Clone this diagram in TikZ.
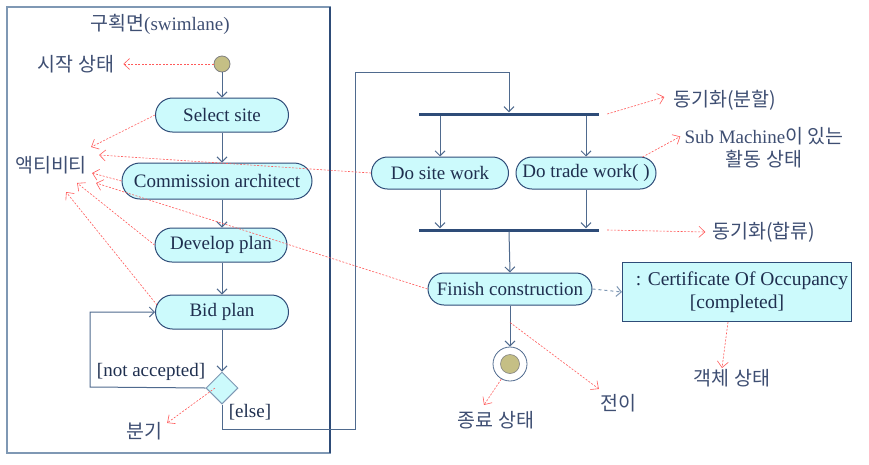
\documentclass[tikz,border=0pt]{standalone}
\usepackage{fontspec}
\setmainfont{Liberation Serif}
\newfontfamily\kr{Noto Sans CJK KR}
\usetikzlibrary{shapes.misc,shapes.geometric,arrows.meta}

\definecolor{lanecol}{HTML}{7F98B4}
\definecolor{edgecol}{HTML}{4F6A8E}
\definecolor{boxline}{HTML}{2E4C78}
\definecolor{boxfill}{HTML}{CCFAFC}
\definecolor{notecol}{HTML}{FF5A5A}
\definecolor{krtext}{HTML}{3E4E72}
\definecolor{inktext}{HTML}{1F2F4F}
\definecolor{dotfill}{HTML}{C5BF85}

\tikzset{
  activity/.style={rounded rectangle, draw=boxline, fill=boxfill, line width=1pt,
    minimum height=34pt, inner xsep=0pt, inner ysep=2pt, text=inktext, font=\fontsize{19}{21}\selectfont},
  flow/.style={draw=edgecol, line width=1pt, -{Straight Barb[length=5pt,width=10pt]}},
  bar/.style={fill=boxline, minimum width=180pt, minimum height=3pt, inner sep=0pt},
  note/.style={draw=notecol, line width=0.6pt, dash pattern=on 2pt off 1.5pt,
    -{Straight Barb[length=6pt,width=11pt]}},
  krlabel/.style={font=\kr\fontsize{19.5}{23}\selectfont, text=krtext, inner sep=1pt},
  guard/.style={font=\fontsize{19}{21}\selectfont, text=inktext, inner sep=1pt},
}

\begin{document}
\begin{tikzpicture}[x=1pt, y=-1pt]
    \useasboundingbox (0,0) rectangle (869,464);

    % Swimlane frame
    \draw[lanecol, line width=1.2pt] (7,7) rectangle (330,453);
    \draw[boxline, line width=1.4pt] (330,7) -- (330,453);
    \node[inner sep=1pt, text=krtext] (title) at (160,24)
        {{\kr\fontsize{19.5}{22}\selectfont 구획면}{\fontsize{19}{21}\selectfont(swimlane)}};

    % Start state and activities in the lane
    \node[circle, draw=gray, fill=dotfill, line width=0.8pt, minimum size=16pt, inner sep=0pt] (start) at (222,64) {};
    \node[activity, minimum width=133pt] (select) at (222,115) {Select site};
    \node[activity, minimum width=190pt, minimum height=36pt] (commission) at (217,181) {Commission architect};
    \node[activity, minimum width=132pt] (develop) at (221,245) {Develop plan};
    \node[activity, minimum width=133pt] (bid) at (222,312) {Bid plan};
    \node[diamond, draw=lanecol, fill=boxfill, line width=1pt, minimum width=32pt, minimum height=32pt, inner sep=0pt] (decide) at (222,388) {};

    % Fork, parallel work, join
    \node[bar] (fork) at (509,114) {};
    \node[activity, minimum width=137pt, minimum height=32pt] (sitework) at (440,173) {Do site work};
    \node[activity, minimum width=140pt, minimum height=32pt] (tradework) at (586,173) {Do trade work( )};
    \node[bar] (join) at (509,230) {};
    \node[activity, minimum width=164pt, minimum height=32pt] (finish) at (510,289) {Finish construction};
    \node[draw=boxline, fill=boxfill, line width=1pt, minimum width=229pt, minimum height=59pt,
          align=center, text=inktext, font=\fontsize{19.5}{23}\selectfont] (cert) at (737,292)
        {\hspace*{10pt}: Certificate Of Occupancy\\{}[completed]};
    \node[circle, draw=edgecol, fill=white, line width=0.8pt, minimum size=34pt, inner sep=0pt] (stop) at (510,364) {};
    \node[circle, draw=gray, fill=dotfill, line width=0.6pt, minimum size=19pt, inner sep=0pt] (stopdot) at (stop) {};

    % Transitions
    \coordinate (loopturn) at (90,387);
    \coordinate (lowturn) at (355,429);
    \coordinate (highturn) at (355,72);
    \draw[flow] (start) -- (select);
    \draw[flow] (select.south) -- (select.south |- commission.north);
    \draw[flow] (select.south |- commission.south) -- (select.south |- develop.north);
    \draw[flow] (select.south |- develop.south) -- (select.south |- bid.north);
    \draw[flow] (bid.south) -- (decide.north);
    \draw[flow] (decide.west) -- (loopturn) |- (bid.west);
    \draw[flow] (decide.south) |- (lowturn) -- (highturn) -| (fork.north);
    \draw[flow] (fork.south -| sitework) -- (sitework.north);
    \draw[flow] (fork.south -| tradework) -- (tradework.north);
    \draw[flow] (sitework.south) -- (sitework.south |- join.north);
    \draw[flow] (tradework.south) -- (tradework.south |- join.north);
    \draw[flow] (join.south) -- (finish.north);
    \draw[flow, draw=lanecol, dashed] (finish.east) -- (cert.west);
    \draw[flow] (finish.south) -- (stop.north);

    % Guards
    \node[guard] (notaccepted) at (151,372) {[not accepted]};
    \node[guard] (elseguard) at (250,412) {[else]};

    % Annotation labels
    \node[krlabel] (startlabel) at (76,64) {시작 상태};
    \node[krlabel] (actlabel) at (51,165) {액티비티};
    \node[krlabel] (branchlabel) at (144,431) {분기};
    \node[krlabel] (forklabel) at (725,100) {동기화(분할)};
    \node[krlabel, align=center] (sublabel) at (764,148)
        {{\rmfamily\fontsize{19}{21}\selectfont Sub Machine}이 있는\\활동 상태};
    \node[krlabel] (joinlabel) at (764,232) {동기화(합류)};
    \node[krlabel] (stoplabel) at (496,420) {종료 상태};
    \node[krlabel] (translabel) at (618,403) {전이};
    \node[krlabel] (objlabel) at (732,378) {객체 상태};

    % Annotation arrows
    \draw[note] (start.west) -- ([shift={(8,0)}]startlabel.east);
    \draw[note] (select.west) -- ([shift={(3,-18)}]actlabel.east);
    \draw[note] (sitework.west) -- ([shift={(11,-10)}]actlabel.east);
    \draw[note] (commission.west) -- ([shift={(4,8)}]actlabel.east);
    \draw[note] (finish.west) -- ([shift={(8,18)}]actlabel.east);
    \draw[note] (develop.west) -- ([shift={(-11,18)}]actlabel.east);
    \draw[note] ([shift={(2,-7)}]bid.west) -- ([shift={(-22,27)}]actlabel.east);
    \draw[note] ([shift={(-7,0)}]decide.center) -- ([shift={(4,2)}]branchlabel.north east);
    \draw[note] ([shift={(8,0)}]fork.east) -- ([shift={(-8,-3)}]forklabel.west);
    \draw[note] ([shift={(-14,-16)}]tradework.east) -- ([shift={(-3,10)}]sublabel.north west);
    \draw[note] ([shift={(8,0)}]join.east) -- ([shift={(-6,0)}]joinlabel.west);
    \draw[note] ([shift={(-9,0)}]cert.south) -- ([shift={(-10,0)}]objlabel.north);
    \draw[note] (stop.-120) -- ([shift={(-12,-5)}]stoplabel.north);
    \draw[note] ([shift={(0,17)}]finish.south) -- ([shift={(0,-4)}]translabel.north west);
\end{tikzpicture}
\end{document}
